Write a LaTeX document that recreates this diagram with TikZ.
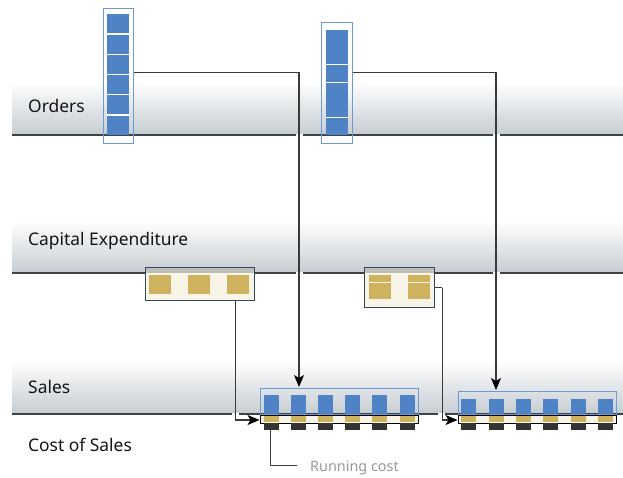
\documentclass[tikz,border=0pt]{standalone}
\usepackage{fontspec}
\setmainfont{Noto Sans}
\usetikzlibrary{arrows.meta}
\definecolor{bluecell}{HTML}{4F83C6}
\definecolor{blueline}{HTML}{6D9AD6}
\definecolor{gold}{HTML}{CFB25E}
\definecolor{cream}{HTML}{F8F4E8}
\definecolor{capline}{HTML}{2F4A60}
\definecolor{darkcell}{HTML}{333333}
\definecolor{bandbot}{HTML}{C5CCD1}
\definecolor{bandline}{HTML}{3D4246}
\definecolor{connc}{HTML}{3A3A3A}
\definecolor{capgray}{HTML}{BCC0B8}
\definecolor{runc}{HTML}{9A9A9A}
\tikzset{
  band/.style={top color=white, bottom color=bandbot, draw=none},
  bandrule/.style={draw=bandline, line width=1.3pt},
  lbl/.style={anchor=base west, inner sep=0pt, font=\fontsize{17.4}{20}\selectfont, text=black!92},
  ordbox/.style={draw=blueline, line width=1.2pt, rectangle, inner sep=0pt, anchor=north west},
  capbox/.style={draw=capline, line width=1.3pt, rectangle, inner sep=0pt, anchor=north west},
  salebox/.style={draw=blueline, line width=1.1pt, rectangle, inner sep=0pt, anchor=north west},
  strip/.style={draw=black, fill=cream, line width=1pt, rectangle, inner sep=0pt, anchor=north west},
  conn/.style={draw=connc, line width=1.2pt},
  arr/.style={conn, -{Stealth[length=12pt,width=10pt,inset=3pt,color=black]}},
}
\begin{document}
\begin{tikzpicture}[x=1pt,y=-1pt]
\useasboundingbox (0,0) rectangle (623,477);
\fill[white] (0,0) rectangle (623,477);
% bands
\shade[band] (12,82) rectangle (623,135);
\shade[band] (12,221) rectangle (623,273);
\shade[band] (12,361) rectangle (623,414);
\draw[bandrule] (12,135) -- (623,135);
\draw[bandrule] (12,273) -- (623,273);
\draw[bandrule] (12,414) -- (623,414);
% gaps where connectors cross
\foreach \gx/\gy in {299/135,299/273,496/135,496/273,235/414,441/414}
  \fill[white] (\gx-3.5,\gy-1.2) rectangle (\gx+3.5,\gy+1.2);
% labels
\node[lbl] (lo) at (28,112.5) {Orders};
\node[lbl] (lc) at (28,245) {Capital Expenditure};
\node[lbl] (ls) at (28,393) {Sales};
\node[lbl] (lcs) at (28,451) {Cost of Sales};

% orders boxes
\node[ordbox, minimum width=30pt, minimum height=135pt] (o1) at (103,8) {};
\fill[bluecell] (107,14) rectangle (129,135);
\foreach \sy in {34,54.3,74.4,94.5,115}
  \draw[white, line width=1.2pt] (107,\sy) -- (129,\sy);
\node[ordbox, minimum width=31pt, minimum height=121pt] (o2) at (321,22) {};
\fill[bluecell] (326,30) rectangle (348,135);
\foreach \sy in {64.3,82.3,117.5}
  \draw[white, line width=1.2pt] (326,\sy) -- (348,\sy);

% capital expenditure boxes
\fill[cream] (145,267) rectangle (254,300);
\fill[capgray] (145,267) rectangle (254,273);
\node[capbox, minimum width=109pt, minimum height=33pt] (c1) at (145,267) {};
\foreach \cx in {149,188,227}
  \fill[gold] (\cx,274.5) rectangle (\cx+22,294);
\fill[cream] (364,267) rectangle (434,307);
\fill[capgray] (364,267) rectangle (434,273);
\node[capbox, minimum width=70pt, minimum height=40pt] (c2) at (364,267) {};
\foreach \cx in {369,408} {
  \fill[gold] (\cx,274.5) rectangle (\cx+22,281.6);
  \fill[gold] (\cx,283) rectangle (\cx+22,298.8);
}

% sales boxes
\node[salebox, minimum width=158pt, minimum height=26pt] (s1) at (260,388) {};
\node[strip, minimum width=158pt, minimum height=7.5pt] (t1) at (260,415) {};
\foreach \bx in {264,291,318,345,372,400} {
  \fill[bluecell] (\bx,395) rectangle (\bx+15,414);
  \fill[gold] (\bx,415.6) rectangle (\bx+15,421.9);
  \fill[darkcell] (\bx,422.5) rectangle (\bx+15,430);
}
\node[salebox, minimum width=158pt, minimum height=23pt] (s2) at (458,391) {};
\node[strip, minimum width=158pt, minimum height=7.5pt] (t2) at (458,415) {};
\foreach \bx in {461,489,516,543,571,598} {
  \fill[bluecell] (\bx,399) rectangle (\bx+15,414);
  \fill[gold] (\bx,415.6) rectangle (\bx+15,421.9);
  \fill[darkcell] (\bx,422.5) rectangle (\bx+15,430);
}

% connector end points
\coordinate (s1in) at (299,387);
\coordinate (s2in) at (496,390);
\coordinate (t1in) at (259.5,420);
\coordinate (t2in) at (457.5,420);
\coordinate (rc) at (297,465);

% connectors
\draw[arr] ([yshift=3.5pt]o1.east) -| (s1in);
\draw[arr] ([yshift=10.5pt]o2.east) -| (s2in);
\draw[arr] ([xshift=35.5pt]c1.south) |- (t1in);
\draw[conn] (c2.east) -- ++(7,0) coordinate (c2k);
\draw[arr] (c2k) |- (t2in);

% running cost
\node[anchor=base west, inner sep=0pt, text=runc, font=\fontsize{14.4}{17}\selectfont] (rl) at (310,471) {Running cost};
\draw[draw=connc, line width=0.9pt] (270,430) |- (rc);
\end{tikzpicture}
\end{document}
